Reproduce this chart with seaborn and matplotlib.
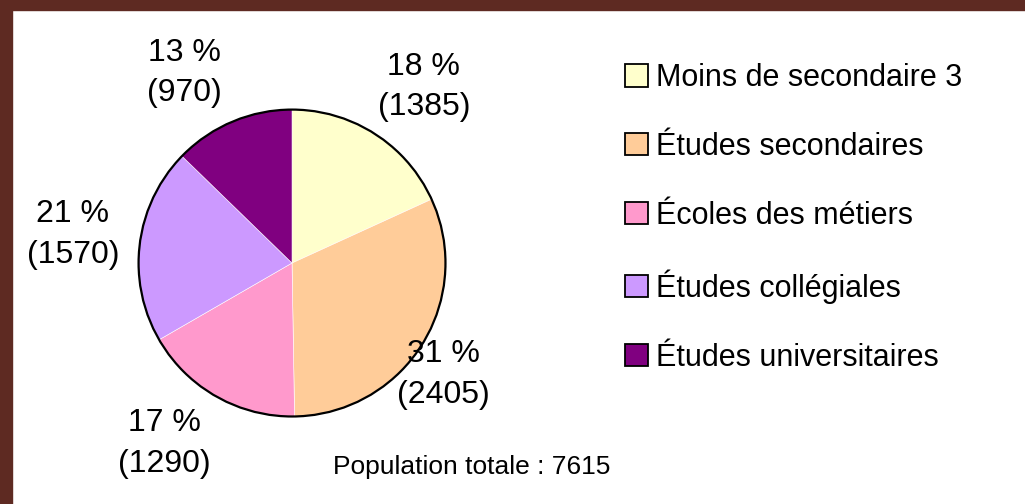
import matplotlib.pyplot as plt
import matplotlib.patches as mpatches
import numpy as np
import seaborn as sns

categories = ["Moins de secondaire 3", "Études secondaires", "Écoles des métiers",
              "Études collégiales", "Études universitaires"]
counts = [1385, 2405, 1290, 1570, 970]
percents = [18, 31, 17, 21, 13]
colors = ["#FFFFCC", "#FFCC99", "#FF99CC", "#CC99FF", "#800080"]
total_label = "Population totale : 7615"

# label placement (distance in radii, angular nudge in degrees), as in the original layout
label_dist = [1.434, 1.227, 1.442, 1.441, 1.424]
label_nudge = [-4.1, -4.0, -5.8, -0.4, 6.6]

sns.set_theme(style="white")
plt.rcParams['font.family'] = ['Liberation Sans', 'DejaVu Sans']
plt.rcParams['text.color'] = 'black'

fig = plt.figure(figsize=(10.25, 5.04), dpi=100)
fig.patch.set_facecolor("white")

# brown frame on the left and top edges
border = "#5e2a22"
fig.patches.append(mpatches.Rectangle((0, 0), 12 / 1025, 1, transform=fig.transFigure,
                                      color=border, zorder=0))
fig.patches.append(mpatches.Rectangle((0, 1 - 10 / 504), 1, 10 / 504, transform=fig.transFigure,
                                      color=border, zorder=0))

ax = fig.add_axes([0.1337, 0.1706, 0.3024, 0.615])
wedges, _ = ax.pie(counts, colors=colors, startangle=90, counterclock=False,
                   wedgeprops=dict(linewidth=0.4, edgecolor="white"))

for w, p, c, d, n in zip(wedges, percents, counts, label_dist, label_nudge):
    ang = np.deg2rad((w.theta1 + w.theta2) / 2 + n)
    ax.text(d * np.cos(ang), d * np.sin(ang), f"{p} %\n({c})", fontsize=23,
            ha="center", va="center", linespacing=1.46, color="black")

ax.add_patch(mpatches.Circle((0, 0), 1, fill=False, edgecolor="black", linewidth=1.6))
ax.set_xlim(-1.01, 1.01)
ax.set_ylim(-1.01, 1.01)
ax.set_aspect("equal")
ax.axis("off")

handles = [mpatches.Patch(facecolor=c, edgecolor="black", linewidth=1.3) for c in colors]
fig.legend(handles, categories, loc="upper left", bbox_to_anchor=(625 / 1025, 1 - 63 / 504),
           frameon=False, fontsize=22, handlelength=0.75, handleheight=0.75,
           handletextpad=0.27, labelspacing=1.27, borderpad=0, borderaxespad=0,
           labelcolor="black")

fig.text(333 / 1025, 1 - 467 / 504, total_label, fontsize=19, va="center", ha="left",
         color="black")

fig.savefig("out.png", dpi=100)
